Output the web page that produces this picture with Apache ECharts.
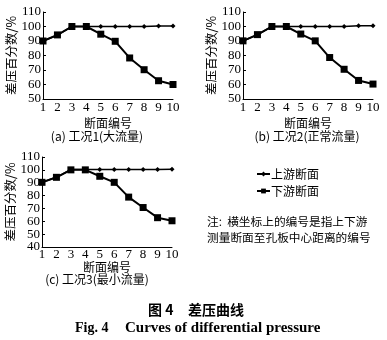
<!DOCTYPE html>
<html>
<head>
<meta charset="utf-8">
<script src="https://cdn.jsdelivr.net/npm/echarts@6/dist/echarts.min.js"></script>
<style>
  html, body { margin: 0; padding: 0; background: #fff; }
  #chart { width: 387px; height: 340px; }
</style>
</head>
<body>
<div id="chart"></div>
<script>
// Section numbers along the horizontal axis
const sections = ['1', '2', '3', '4', '5', '6', '7', '8', '9', '10'];

// Differential pressure percentage, case 1 (large flow)
const upstreamA   = [90, 94, 100, 100, 100, 100, 100, 100, 100.4, 100.4];
const downstreamA = [90, 94.2, 100, 100, 94.7, 89.8, 78.3, 70.2, 62.6, 60];

// Case 2 (normal flow)
const upstreamB   = [90, 94.3, 100, 100, 100, 100, 100, 100, 100.5, 100.6];
const downstreamB = [90.1, 94.4, 100, 100, 94.8, 90.1, 78.6, 70.5, 62.8, 60.3];

// Case 3 (minimum flow)
const upstreamC   = [90.3, 94.2, 100.3, 100.3, 100.3, 100.3, 100.3, 100.3, 100.3, 100.5];
const downstreamC = [90.3, 94.2, 100, 100, 95, 90.3, 78.8, 70.7, 62.8, 60.4];

const seriesNames = ['上游断面', '下游断面'];
const panelCaptions = ['(a) 工况1(大流量)', '(b) 工况2(正常流量)', '(c) 工况3(最小流量)'];
const yName = '差压百分数/%';
const xName = '断面编号';

const serif = 'Liberation Serif, Times New Roman, serif';
const cjk = 'Noto Sans CJK SC, sans-serif';

const grids = [
  { left: 43, top: 12, width: 130, height: 87 },
  { left: 243, top: 12, width: 130, height: 87 },
  { left: 42, top: 157, width: 130, height: 90 }
];
const yRanges = [[50, 110], [50, 110], [40, 110]];
const xNameGaps = [18, 18, 14];
const xLabelMargins = [2, 2, 1];
const data = [[upstreamA, downstreamA], [upstreamB, downstreamB], [upstreamC, downstreamC]];

const axisLine = { show: true, lineStyle: { color: '#000', width: 1 } };

const xAxes = grids.map((g, i) => ({
  type: 'category', gridIndex: i, data: sections, boundaryGap: false,
  axisLine, axisTick: { show: false },
  axisLabel: { color: '#000', fontFamily: serif, fontSize: 13, margin: xLabelMargins[i], interval: 0 },
  name: xName, nameLocation: 'middle', nameGap: xNameGaps[i],
  nameTextStyle: { color: '#000', fontFamily: cjk, fontSize: 12 },
  splitLine: { show: false }
}));

const yAxes = grids.map((g, i) => ({
  type: 'value', gridIndex: i, min: yRanges[i][0], max: yRanges[i][1], interval: 10,
  axisLine, axisTick: { show: true, inside: true, length: 3, lineStyle: { color: '#000' } },
  axisLabel: { color: '#000', fontFamily: serif, fontSize: 13, margin: 2 },
  name: yName, nameLocation: 'middle', nameGap: 22, nameRotate: 90,
  nameTextStyle: { color: '#000', fontFamily: cjk, fontSize: 12.5 },
  splitLine: { show: false }
}));

const series = [];
data.forEach((pair, i) => {
  series.push({
    name: seriesNames[0], type: 'line', xAxisIndex: i, yAxisIndex: i, data: pair[0],
    symbol: 'diamond', symbolSize: 5, showAllSymbol: true,
    lineStyle: { color: '#000', width: 1.5 }, itemStyle: { color: '#000' }, z: 3
  });
  series.push({
    name: seriesNames[1], type: 'line', xAxisIndex: i, yAxisIndex: i, data: pair[1],
    symbol: 'rect', symbolSize: 7, showAllSymbol: true,
    lineStyle: { color: '#000', width: 2 }, itemStyle: { color: '#000' }, z: 2
  });
});

const captionPos = [
  { left: 97, top: 130 },
  { left: 307, top: 130 },
  { left: 97, top: 273 }
];

const plain = (family, size, weight) => ({ fontFamily: family, fontSize: size, fontWeight: weight || 'normal', color: '#000' });

const titles = panelCaptions.map((t, i) => ({
  text: t, left: captionPos[i].left, top: captionPos[i].top, textAlign: 'center', padding: 0,
  textStyle: plain(cjk, 12)
}));
titles.push({
  text: '注:  横坐标上的编号是指上下游\n测量断面至孔板中心距离的编号',
  left: 207, top: 214, padding: 0,
  textStyle: Object.assign(plain(cjk, 11.7), { lineHeight: 16 })
});
// Figure caption, Chinese and English
titles.push({ text: '图 4', left: 148, top: 303, padding: 0, textStyle: plain(cjk, 14, 'bold') });
titles.push({ text: '差压曲线', left: 188, top: 303, padding: 0, textStyle: plain(cjk, 14, 'bold') });
titles.push({ text: 'Fig. 4', left: 75, top: 321, padding: 0, textStyle: plain(serif, 14, 'bold') });
titles.push({ text: 'Curves of differential pressure', left: 125, top: 321, padding: 0, textStyle: plain(serif, 15, 'bold') });

const chart = echarts.init(document.getElementById('chart'), null, { renderer: 'canvas' });
chart.setOption({
  backgroundColor: '#fff',
  animation: false,
  title: titles,
  legend: {
    data: seriesNames, orient: 'vertical', left: 251, top: 163,
    itemWidth: 13, itemHeight: 6, itemGap: 5,
    textStyle: { fontFamily: cjk, fontSize: 12, color: '#000', padding: [0, 0, 0, -4] }
  },
  grid: grids,
  xAxis: xAxes,
  yAxis: yAxes,
  series
});
</script>
</body>
</html>
